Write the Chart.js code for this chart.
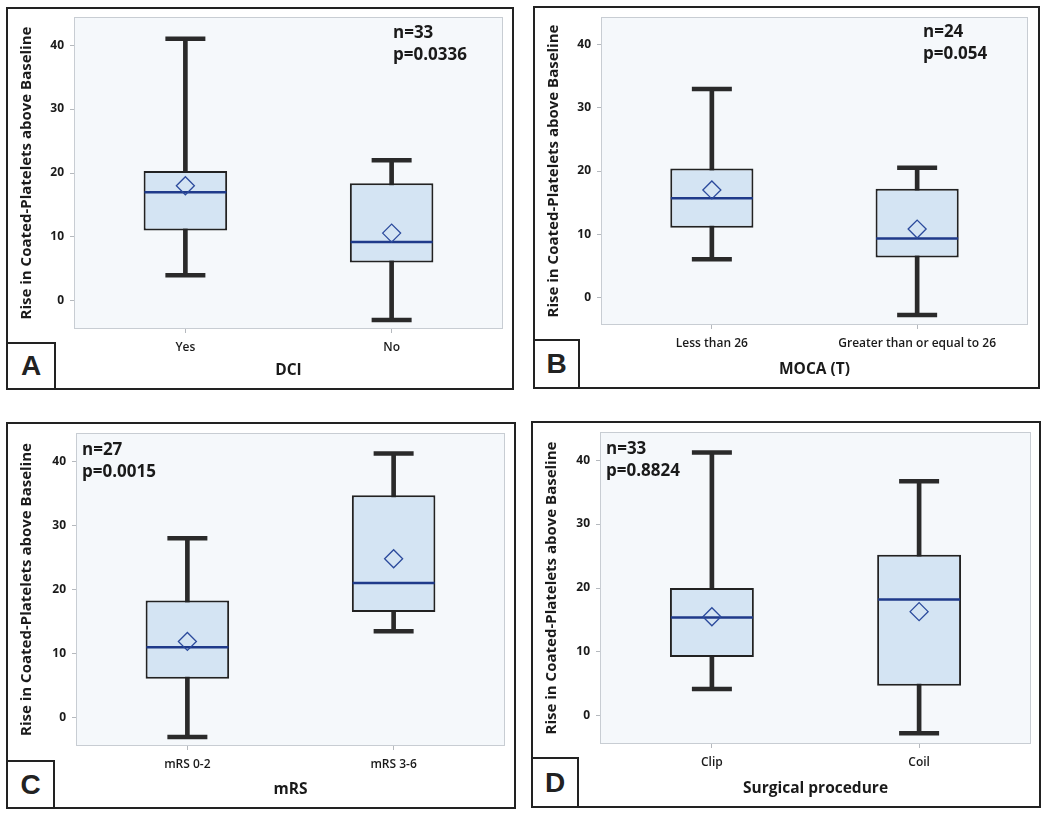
<!DOCTYPE html>
<html>
<head>
<meta charset="utf-8">
<script src="https://cdn.jsdelivr.net/npm/chart.js@4.4.1/dist/chart.umd.min.js"></script>
<style>
  html, body { margin: 0; padding: 0; background: #fff; }
  body { width: 1050px; height: 814px; position: relative; overflow: hidden; font-family: "Open Sans", sans-serif; }
  .frame { position: absolute; border: 2px solid #222; box-sizing: border-box; }
  .frame canvas { position: absolute; left: 0; top: 0; }
  .stats { position: absolute; font: 700 17px/22px "Open Sans", sans-serif; color: #1a1a1a; white-space: nowrap; }
  .tag { position: absolute; left: -2px; bottom: -2px; border: 2px solid #222; box-sizing: border-box; background: #fff;
         font: 700 28px "Liberation Sans", Arial, sans-serif; color: #222; display: flex; align-items: center; justify-content: center; }
</style>
</head>
<body>
<script>
// shared axes
const yTitle = 'Rise in Coated-Platelets above Baseline';
const yMin = -4.4;
const yMax = 44.4;
const xMin = -0.54;
const xMax = 1.54;

// A - DCI
const labelsA = ['Yes', 'No'];
const lowA = [4, -3];
const q1A = [11, 6];
const medianA = [17, 9.2];
const q3A = [20.3, 18.4];
const highA = [41, 22];
const meanA = [18, 10.6];

// B - MOCA (T)
const labelsB = ['Less than 26', 'Greater than or equal to 26'];
const lowB = [6, -2.8];
const q1B = [11, 6.3];
const medianB = [15.7, 9.3];
const q3B = [20.4, 17.2];
const highB = [33, 20.5];
const meanB = [17, 10.8];

// C - mRS
const labelsC = ['mRS 0-2', 'mRS 3-6'];
const lowC = [-3, 13.5];
const q1C = [6.1, 16.5];
const medianC = [11, 21];
const q3C = [18.3, 34.7];
const highC = [28, 41.2];
const meanC = [11.9, 24.8];

// D - Surgical procedure
const labelsD = ['Clip', 'Coil'];
const lowD = [4.2, -2.7];
const q1D = [9.2, 4.7];
const medianD = [15.4, 18.2];
const q3D = [20, 25.2];
const highD = [41.2, 36.7];
const meanD = [15.5, 16.3];

const panels = [
  { tag: 'A', xTitle: 'DCI', n: 'n=33', p: 'p=0.0336', labels: labelsA, low: lowA, q1: q1A, median: medianA, q3: q3A, high: highA, mean: meanA },
  { tag: 'B', xTitle: 'MOCA (T)', n: 'n=24', p: 'p=0.054', labels: labelsB, low: lowB, q1: q1B, median: medianB, q3: q3B, high: highB, mean: meanB },
  { tag: 'C', xTitle: 'mRS', n: 'n=27', p: 'p=0.0015', labels: labelsC, low: lowC, q1: q1C, median: medianC, q3: q3C, high: highC, mean: meanC },
  { tag: 'D', xTitle: 'Surgical procedure', n: 'n=33', p: 'p=0.8824', labels: labelsD, low: lowD, q1: q1D, median: medianD, q3: q3D, high: highD, mean: meanD },
];

// page placement (frame box, plot area, stats text, tag box), absolute px
const layouts = [
  { frame: [6, 7, 508, 383], plot: [74, 17, 503, 329], stats: [393, 21], tagSize: [50, 48] },
  { frame: [533, 6, 507, 383], plot: [601, 17, 1028, 325], stats: [923, 20], tagSize: [47, 50] },
  { frame: [6, 422, 510, 387], plot: [76, 433, 505, 746], stats: [82, 438], tagSize: [49, 49] },
  { frame: [531, 421, 510, 387], plot: [600, 432, 1031, 744], stats: [606, 437], tagSize: [48, 51] },
];

const dark = '#2a2a2a';
const navy = '#1f3a8a';

const plotFrame = {
  id: 'plotFrame',
  beforeDraw(chart) {
    const { ctx, chartArea: a } = chart;
    ctx.save();
    ctx.fillStyle = '#f5f8fb';
    ctx.fillRect(a.left, a.top, a.width, a.height);
    ctx.strokeStyle = '#c8cdd3';
    ctx.lineWidth = 1;
    ctx.strokeRect(a.left + 0.5, a.top + 0.5, a.width - 1, a.height - 1);
    ctx.restore();
  }
};

panels.forEach((pn, k) => {
  const lay = layouts[k];
  const [fx, fy, fw, fh] = lay.frame;
  const [pl, pt, pr, pb] = lay.plot;
  const iw = fw - 4, ih = fh - 4;
  const ox = fx + 2, oy = fy + 2;

  const frame = document.createElement('div');
  frame.className = 'frame';
  Object.assign(frame.style, { left: fx + 'px', top: fy + 'px', width: fw + 'px', height: fh + 'px' });
  const canvas = document.createElement('canvas');
  canvas.width = iw;
  canvas.height = ih;
  frame.appendChild(canvas);

  const tag = document.createElement('div');
  tag.className = 'tag';
  tag.textContent = pn.tag;
  tag.style.width = lay.tagSize[0] + 'px';
  tag.style.height = lay.tagSize[1] + 'px';
  frame.appendChild(tag);
  document.body.appendChild(frame);

  const stats = document.createElement('div');
  stats.className = 'stats';
  stats.style.left = lay.stats[0] + 'px';
  stats.style.top = lay.stats[1] + 'px';
  stats.innerHTML = pn.n + '<br>' + pn.p;
  document.body.appendChild(stats);

  const yWidth = pl - ox;
  const xHeight = oy + ih - pb;
  const pts = arr => arr.map((v, i) => ({ x: i, y: v }));

  new Chart(canvas, {
    type: 'bar',
    data: {
      datasets: [
        { // whisker stems
          type: 'bar', order: 5, grouped: false,
          data: pn.labels.map((_, i) => ({ x: i, y: [pn.low[i], pn.high[i]] })),
          backgroundColor: dark, barThickness: 4
        },
        { // boxes
          type: 'bar', order: 4, grouped: false,
          data: pn.labels.map((_, i) => ({ x: i, y: [pn.q1[i], pn.q3[i]] })),
          backgroundColor: '#d4e4f3', borderColor: '#222', borderWidth: 2, borderSkipped: false,
          barPercentage: 0.405, categoryPercentage: 1
        },
        { // upper caps
          type: 'line', order: 3, data: pts(pn.high), showLine: false,
          pointStyle: 'line', pointRadius: 20, pointBorderWidth: 4.5, pointBorderColor: dark
        },
        { // lower caps
          type: 'line', order: 3, data: pts(pn.low), showLine: false,
          pointStyle: 'line', pointRadius: 20, pointBorderWidth: 4.5, pointBorderColor: dark
        },
        { // medians
          type: 'line', order: 2, data: pts(pn.median), showLine: false,
          pointStyle: 'line', pointRadius: 41, pointBorderWidth: 2.5, pointBorderColor: navy
        },
        { // means
          type: 'line', order: 1, data: pts(pn.mean), showLine: false,
          pointStyle: 'rectRot', pointRadius: 9, pointBorderWidth: 1.3,
          pointBorderColor: '#2b4a9c', pointBackgroundColor: 'rgba(0,0,0,0)'
        }
      ]
    },
    options: {
      responsive: false,
      animation: false,
      events: [],
      layout: { autoPadding: false, padding: { top: pt - oy, right: ox + iw - pr, bottom: 0, left: 0 } },
      plugins: { legend: { display: false }, tooltip: { enabled: false } },
      scales: {
        x: {
          type: 'linear', min: xMin, max: xMax, offset: false,
          afterBuildTicks(scale) { scale.ticks = pn.labels.map((_, i) => ({ value: i })); },
          grid: { offset: false, drawOnChartArea: false, tickLength: 4, color: '#b5b9be' },
          border: { display: false },
          ticks: { color: '#1a1a1a', padding: 7, autoSkip: false, maxRotation: 0,
                   callback: v => pn.labels[v],
                   font: { family: 'Open Sans', size: 12, weight: '600' } },
          title: { display: true, text: pn.xTitle, color: '#1a1a1a', padding: { bottom: 8 },
                   font: { family: 'Open Sans', size: 15.5, weight: '700' } },
          afterFit(scale) { scale.height = xHeight; scale.paddingLeft = 0; scale.paddingRight = 0; }
        },
        y: {
          min: yMin, max: yMax,
          grid: { drawOnChartArea: false, tickLength: 4, color: '#b5b9be' },
          border: { display: false },
          ticks: { stepSize: 10, includeBounds: false, color: '#1a1a1a', padding: 6,
                   font: { family: 'Open Sans', size: 12, weight: '700' } },
          title: { display: true, text: yTitle, color: '#1a1a1a', padding: { top: 10 },
                   font: { family: 'Open Sans', size: 15, weight: '700' } },
          afterFit(scale) { scale.width = yWidth; scale.paddingTop = 0; scale.paddingBottom = 0; }
        }
      }
    },
    plugins: [plotFrame]
  });
});
</script>
</body>
</html>
